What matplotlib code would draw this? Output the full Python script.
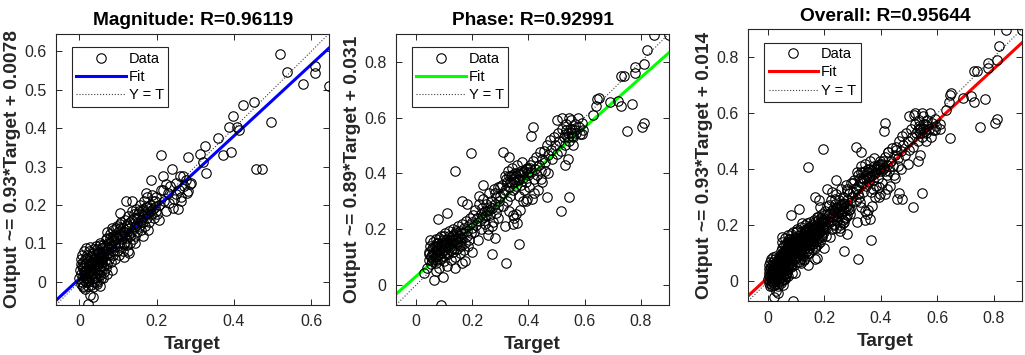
import numpy as np
import matplotlib.pyplot as plt
from matplotlib.lines import Line2D

plt.rcParams['font.family'] = ['Liberation Sans', 'DejaVu Sans']

# (target, output) pairs
mag_points = np.array([
    (0.000, 0.010), (0.002, 0.030), (0.003, 0.045), (0.004, -0.005), (0.005, 0.020), (0.006, 0.040), (0.007, 0.000), (0.008, 0.015), (0.009, 0.035), (0.010, 0.050),
    (0.010, -0.010), (0.011, 0.025), (0.012, 0.005), (0.013, 0.042), (0.014, 0.060), (0.015, 0.018), (0.016, -0.002), (0.017, 0.030), (0.018, 0.048), (0.019, 0.070),
    (0.020, 0.010), (0.021, -0.012), (0.022, 0.038), (0.023, 0.022), (0.024, 0.055), (0.025, 0.004), (0.026, 0.032), (0.027, 0.065), (0.028, 0.015), (0.029, 0.045),
    (0.030, -0.008), (0.031, 0.028), (0.032, 0.052), (0.033, 0.008), (0.034, 0.075), (0.035, 0.038), (0.036, 0.020), (0.037, 0.060), (0.038, 0.000), (0.039, 0.045),
    (0.040, 0.030), (0.041, 0.070), (0.042, 0.012), (0.043, 0.055), (0.044, 0.040), (0.045, 0.085), (0.046, 0.022), (0.047, 0.062), (0.048, 0.005), (0.049, 0.048),
    (0.050, 0.035), (0.051, 0.078), (0.052, 0.018), (0.053, 0.058), (0.054, 0.095), (0.055, 0.042), (0.056, 0.068), (0.057, 0.028), (0.058, 0.088), (0.059, 0.050),
    (0.016, 0.087), (0.052, 0.100), (0.052, -0.012), (0.028, -0.034), (0.036, -0.041), (0.022, -0.057), (0.015, -0.018), (0.045, -0.005), (0.060, 0.010), (0.064, 0.025),
    (0.003, 0.060), (0.006, 0.070), (0.008, -0.015), (0.012, 0.080), (0.014, 0.030), (0.018, 0.010), (0.020, 0.062), (0.022, 0.000), (0.024, 0.080), (0.026, 0.045),
    (0.028, 0.090), (0.030, 0.020), (0.032, 0.068), (0.034, -0.015), (0.036, 0.050), (0.038, 0.085), (0.040, 0.010), (0.042, 0.092), (0.044, 0.060), (0.046, 0.000),
    (0.048, 0.075), (0.050, 0.055), (0.052, 0.040), (0.054, 0.070), (0.056, 0.010), (0.058, 0.060),
    (0.060, 0.065), (0.062, 0.040), (0.064, 0.090), (0.066, 0.055), (0.068, 0.110), (0.070, 0.075), (0.072, 0.045), (0.074, 0.100), (0.076, 0.060), (0.078, 0.125),
    (0.080, 0.085), (0.082, 0.050), (0.084, 0.105), (0.086, 0.070), (0.088, 0.135), (0.090, 0.095), (0.092, 0.060), (0.094, 0.115), (0.096, 0.080), (0.098, 0.145),
    (0.100, 0.100), (0.102, 0.070), (0.104, 0.125), (0.106, 0.090), (0.108, 0.155), (0.110, 0.110), (0.112, 0.080), (0.114, 0.130), (0.116, 0.098), (0.118, 0.160),
    (0.104, 0.178), (0.126, 0.079), (0.072, 0.020), (0.085, 0.030), (0.095, 0.120), (0.105, 0.140), (0.115, 0.065), (0.075, 0.085), (0.090, 0.108), (0.110, 0.120),
    (0.060, 0.095), (0.062, 0.070), (0.066, 0.080), (0.068, 0.035), (0.070, 0.095), (0.072, 0.115), (0.076, 0.070), (0.078, 0.100), (0.080, 0.115), (0.082, 0.090),
    (0.086, 0.120), (0.088, 0.080), (0.092, 0.100), (0.094, 0.140), (0.098, 0.115), (0.100, 0.130), (0.102, 0.095), (0.106, 0.150), (0.108, 0.120), (0.112, 0.140),
    (0.114, 0.100), (0.118, 0.130), (0.070, 0.130), (0.084, 0.140),
    (0.120, 0.115), (0.122, 0.145), (0.124, 0.095), (0.126, 0.170), (0.128, 0.125), (0.130, 0.100), (0.132, 0.155), (0.134, 0.130), (0.136, 0.185), (0.138, 0.110),
    (0.140, 0.140), (0.142, 0.165), (0.144, 0.120), (0.146, 0.190), (0.148, 0.150), (0.150, 0.130), (0.152, 0.175), (0.154, 0.145), (0.156, 0.200), (0.158, 0.160),
    (0.160, 0.135), (0.162, 0.185), (0.164, 0.155), (0.166, 0.210), (0.168, 0.170), (0.170, 0.145), (0.172, 0.195), (0.174, 0.165), (0.176, 0.220), (0.178, 0.180),
    (0.180, 0.155), (0.182, 0.200), (0.185, 0.175), (0.188, 0.225), (0.190, 0.190), (0.192, 0.165), (0.195, 0.210), (0.198, 0.185), (0.121, 0.209), (0.137, 0.209),
    (0.177, 0.135), (0.173, 0.230), (0.184, 0.265), (0.199, 0.220), (0.205, 0.161), (0.128, 0.075), (0.145, 0.100), (0.165, 0.120),
    (0.124, 0.150), (0.128, 0.140), (0.132, 0.120), (0.136, 0.160), (0.140, 0.175), (0.144, 0.145), (0.150, 0.165), (0.154, 0.185), (0.160, 0.155), (0.164, 0.190),
    (0.170, 0.175), (0.176, 0.195), (0.183, 0.185), (0.190, 0.210), (0.196, 0.195),
    (0.200, 0.175), (0.205, 0.200), (0.210, 0.240), (0.216, 0.239), (0.215, 0.274), (0.210, 0.329), (0.220, 0.210), (0.225, 0.185), (0.230, 0.230), (0.239, 0.293),
    (0.242, 0.191), (0.249, 0.229), (0.251, 0.258), (0.255, 0.189), (0.264, 0.220), (0.264, 0.209), (0.268, 0.276), (0.281, 0.237), (0.290, 0.258), (0.281, 0.324),
    (0.235, 0.250), (0.245, 0.215), (0.258, 0.240), (0.270, 0.250), (0.275, 0.265), (0.286, 0.255), (0.225, 0.255), (0.260, 0.275), (0.232, 0.205), (0.278, 0.230),
    (0.312, 0.332), (0.320, 0.313), (0.325, 0.354), (0.327, 0.284), (0.358, 0.373), (0.371, 0.331), (0.393, 0.338), (0.388, 0.402), (0.398, 0.431), (0.409, 0.402),
    (0.414, 0.395), (0.424, 0.461), (0.452, 0.467), (0.457, 0.294), (0.473, 0.294), (0.495, 0.417), (0.518, 0.592), (0.537, 0.546), (0.578, 0.516), (0.610, 0.562),
    (0.610, 0.544), (0.646, 0.510),
])

# (target, output) pairs
phase_points = np.array([
    (0.030, 0.042), (0.065, 0.020), (0.095, 0.030), (0.090, -0.070), (0.040, 0.060), (0.045, 0.090), (0.048, 0.120), (0.050, 0.140), (0.052, 0.105), (0.055, 0.075),
    (0.058, 0.130), (0.060, 0.155), (0.062, 0.095), (0.065, 0.115), (0.068, 0.140), (0.070, 0.080), (0.072, 0.165), (0.075, 0.105), (0.078, 0.125), (0.080, 0.150),
    (0.082, 0.060), (0.085, 0.095), (0.088, 0.175), (0.090, 0.115), (0.092, 0.135), (0.095, 0.160), (0.098, 0.085), (0.100, 0.105), (0.102, 0.185), (0.105, 0.125),
    (0.108, 0.145), (0.110, 0.070), (0.112, 0.165), (0.115, 0.110), (0.118, 0.195), (0.120, 0.135), (0.122, 0.155), (0.125, 0.090), (0.128, 0.175), (0.130, 0.120),
    (0.132, 0.200), (0.135, 0.145), (0.138, 0.165), (0.140, 0.100), (0.142, 0.185), (0.145, 0.130), (0.148, 0.210), (0.150, 0.155), (0.152, 0.175), (0.155, 0.115),
    (0.158, 0.195), (0.160, 0.140), (0.162, 0.220), (0.165, 0.165), (0.168, 0.185), (0.170, 0.125), (0.172, 0.205), (0.175, 0.150), (0.178, 0.230), (0.180, 0.175),
    (0.182, 0.195), (0.185, 0.140), (0.188, 0.215), (0.190, 0.160), (0.192, 0.240), (0.195, 0.185), (0.198, 0.205), (0.060, 0.110), (0.075, 0.140), (0.085, 0.125),
    (0.100, 0.150), (0.115, 0.140), (0.130, 0.160), (0.145, 0.155), (0.160, 0.170), (0.070, 0.050), (0.140, 0.060), (0.165, 0.080), (0.175, 0.085), (0.200, 0.120),
    (0.110, 0.257), (0.080, 0.235), (0.140, 0.407), (0.195, 0.472), (0.165, 0.300), (0.180, 0.290),
    (0.045, 0.110), (0.050, 0.160), (0.055, 0.100), (0.058, 0.085), (0.062, 0.135), (0.066, 0.100), (0.070, 0.125), (0.073, 0.150), (0.076, 0.090), (0.080, 0.110),
    (0.083, 0.170), (0.086, 0.140), (0.090, 0.100), (0.094, 0.150), (0.097, 0.125), (0.100, 0.175), (0.104, 0.140), (0.108, 0.110), (0.112, 0.150), (0.116, 0.175),
    (0.120, 0.160), (0.124, 0.125), (0.128, 0.150), (0.132, 0.180), (0.136, 0.130), (0.140, 0.160), (0.144, 0.195), (0.150, 0.170), (0.155, 0.145), (0.160, 0.185),
    (0.200, 0.225), (0.203, 0.250), (0.206, 0.190), (0.210, 0.270), (0.213, 0.215), (0.216, 0.240), (0.220, 0.160), (0.223, 0.290), (0.226, 0.230), (0.230, 0.255),
    (0.233, 0.200), (0.236, 0.275), (0.240, 0.310), (0.243, 0.245), (0.246, 0.220), (0.250, 0.290), (0.253, 0.265), (0.256, 0.180), (0.260, 0.330), (0.263, 0.250),
    (0.266, 0.300), (0.270, 0.275), (0.273, 0.225), (0.276, 0.345), (0.280, 0.290), (0.283, 0.260), (0.286, 0.315), (0.290, 0.240), (0.293, 0.350), (0.296, 0.300),
    (0.240, 0.360), (0.225, 0.320), (0.255, 0.200), (0.270, 0.210), (0.280, 0.170), (0.270, 0.110), (0.320, 0.078), (0.315, 0.210), (0.280, 0.330), (0.290, 0.280),
    (0.250, 0.250), (0.260, 0.270), (0.265, 0.280), (0.245, 0.265), (0.235, 0.240),
    (0.300, 0.320), (0.305, 0.360), (0.310, 0.285), (0.315, 0.390), (0.318, 0.340), (0.322, 0.300), (0.325, 0.370), (0.328, 0.410), (0.332, 0.350), (0.335, 0.320),
    (0.338, 0.390), (0.340, 0.365), (0.343, 0.420), (0.346, 0.340), (0.350, 0.380), (0.353, 0.400), (0.356, 0.355), (0.360, 0.430), (0.363, 0.375), (0.366, 0.320),
    (0.370, 0.395), (0.373, 0.360), (0.376, 0.440), (0.380, 0.385), (0.383, 0.340), (0.386, 0.410), (0.390, 0.370), (0.393, 0.300), (0.396, 0.420), (0.400, 0.395),
    (0.403, 0.350), (0.406, 0.430), (0.410, 0.405), (0.413, 0.310), (0.416, 0.445), (0.420, 0.380), (0.423, 0.415), (0.426, 0.460), (0.430, 0.395), (0.433, 0.340),
    (0.436, 0.430), (0.440, 0.475), (0.443, 0.410), (0.446, 0.380), (0.450, 0.450), (0.310, 0.478), (0.415, 0.565), (0.410, 0.535), (0.345, 0.220), (0.360, 0.222),
    (0.370, 0.270), (0.365, 0.147), (0.345, 0.250), (0.355, 0.255), (0.380, 0.300), (0.395, 0.310), (0.330, 0.460), (0.330, 0.265), (0.350, 0.240), (0.465, 0.316),
    (0.420, 0.330), (0.450, 0.370), (0.460, 0.410), (0.470, 0.400),
    (0.300, 0.350), (0.310, 0.330), (0.320, 0.380), (0.330, 0.390), (0.335, 0.370), (0.342, 0.395), (0.348, 0.370), (0.355, 0.390), (0.362, 0.400), (0.368, 0.380),
    (0.375, 0.410), (0.382, 0.400), (0.390, 0.415), (0.398, 0.405), (0.405, 0.420),
    (0.455, 0.480), (0.460, 0.440), (0.465, 0.500), (0.470, 0.465), (0.475, 0.520), (0.480, 0.485), (0.485, 0.450), (0.490, 0.530), (0.495, 0.500), (0.500, 0.470),
    (0.505, 0.545), (0.510, 0.515), (0.515, 0.480), (0.520, 0.560), (0.525, 0.530), (0.530, 0.500), (0.535, 0.575), (0.540, 0.545), (0.545, 0.515), (0.550, 0.590),
    (0.555, 0.560), (0.560, 0.530), (0.565, 0.575), (0.570, 0.545), (0.575, 0.600), (0.580, 0.565), (0.585, 0.540), (0.590, 0.580), (0.595, 0.555), (0.520, 0.600),
    (0.545, 0.600), (0.530, 0.430), (0.540, 0.450), (0.515, 0.266), (0.545, 0.314), (0.500, 0.590), (0.560, 0.500), (0.590, 0.540),
    (0.530, 0.540), (0.540, 0.530), (0.550, 0.545), (0.555, 0.535), (0.565, 0.555), (0.535, 0.555), (0.548, 0.560),
    (0.630, 0.610), (0.640, 0.640), (0.645, 0.665), (0.650, 0.670), (0.690, 0.655), (0.720, 0.660), (0.730, 0.640), (0.770, 0.650), (0.750, 0.550), (0.810, 0.580),
    (0.805, 0.565), (0.730, 0.750), (0.740, 0.750), (0.780, 0.780), (0.780, 0.760), (0.810, 0.790), (0.820, 0.840), (0.845, 0.895), (0.900, 0.895),
])

overall_points = np.vstack([mag_points, phase_points])

titles = ["Magnitude: R=0.96119", "Phase: R=0.92991", "Overall: R=0.95644"]
ylabels = ["Output ~= 0.93*Target + 0.0078", "Output ~= 0.89*Target + 0.031",
           "Output ~= 0.93*Target + 0.014"]
fit_slope = [0.93, 0.89, 0.93]
fit_icpt = [0.0078, 0.031, 0.014]
fit_colors = ["#0000ff", "#00ff00", "#ff0000"]
limits = [(-0.06, 0.646), (-0.07, 0.90), (-0.07, 0.90)]
xticks = [[0, 0.2, 0.4, 0.6], [0, 0.2, 0.4, 0.6, 0.8], [0, 0.2, 0.4, 0.6, 0.8]]
yticks = [[0, 0.1, 0.2, 0.3, 0.4, 0.5, 0.6], [0, 0.2, 0.4, 0.6, 0.8], [0, 0.2, 0.4, 0.6, 0.8]]
datasets = [mag_points, phase_points, overall_points]

W, H = 1025, 355
boxes = [(56.3, 33.7, 329.0, 304.7), (396.3, 33.7, 669.0, 304.7), (748.3, 29.0, 1022.0, 301.0)]

fig = plt.figure(figsize=(W / 100, H / 100), dpi=100)
grey = "#262626"

for i in range(3):
    x0, y0, x1, y1 = boxes[i]
    ax = fig.add_axes([x0 / W, 1 - y1 / H, (x1 - x0) / W, (y1 - y0) / H])
    lo, hi = limits[i]
    pts = datasets[i]
    xs = np.array([lo, hi])
    ax.plot(xs, fit_slope[i] * xs + fit_icpt[i], color=fit_colors[i], lw=2.2, zorder=2)
    ax.plot(xs, xs, ':', color="0.25", lw=0.8, zorder=3)
    ax.plot(pts[:, 0], pts[:, 1], 'o', mfc='none', mec='k', mew=0.8, ms=6.8, zorder=4)
    ax.set_xlim(lo, hi)
    ax.set_ylim(lo, hi)
    ax.set_xticks(xticks[i])
    ax.set_yticks(yticks[i])
    ax.set_xticklabels([f"{v:g}" for v in xticks[i]])
    ax.set_yticklabels([f"{v:g}" for v in yticks[i]])
    ax.tick_params(direction='in', top=True, right=True, length=4, width=0.7,
                   labelsize=11.5, colors=grey, labelcolor=grey, pad=7)
    for s in ax.spines.values():
        s.set_color(grey)
        s.set_linewidth(0.8)
    ax.set_title(titles[i], fontsize=13.8, fontweight='bold', pad=6)
    ax.set_xlabel("Target", fontsize=13.8, fontweight='bold', color=grey, labelpad=5)
    ax.set_ylabel(ylabels[i], fontsize=13.8, fontweight='bold', color=grey, labelpad=2)

    handles = [
        Line2D([], [], ls='none', marker='o', mfc='none', mec='k', mew=0.8, ms=6.8),
        Line2D([], [], color=fit_colors[i], lw=2.2),
        Line2D([], [], ls=':', color="0.25", lw=0.8),
    ]
    leg = ax.legend(handles, ["Data", "Fit", "Y = T"], loc='upper left',
                    bbox_to_anchor=(0.058, 0.95), fontsize=10.5, handlelength=3.4,
                    handletextpad=0.2, labelspacing=0.3, borderpad=0.3,
                    borderaxespad=0, fancybox=False, framealpha=1)
    leg.get_frame().set_edgecolor(grey)
    leg.get_frame().set_linewidth(0.8)

fig.savefig("out.png", dpi=100)
